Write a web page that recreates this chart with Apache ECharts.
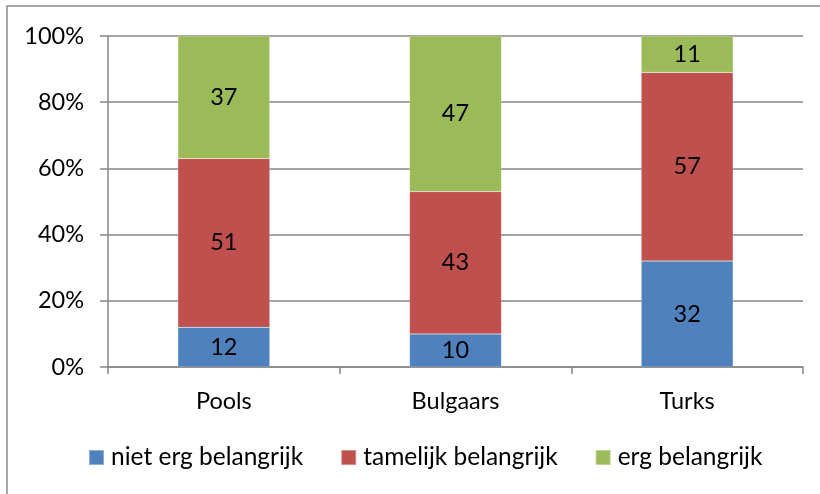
<!DOCTYPE html>
<html><head><meta charset="utf-8">
<script src="https://cdn.jsdelivr.net/npm/echarts@6/dist/echarts.min.js"></script>
<style>html,body{margin:0;padding:0;background:#fff}#c{width:820px;height:494px}</style>
</head><body><div id="c"></div>
<script>
const categories = ['Pools', 'Bulgaars', 'Turks'];
const seriesNames = ['niet erg belangrijk', 'tamelijk belangrijk', 'erg belangrijk'];
const nietErg = [12, 10, 32];
const tamelijk = [51, 43, 57];
const erg = [37, 47, 11];
const yTicks = ['0%', '20%', '40%', '60%', '80%', '100%'];
const colors = ['#4F81BD', '#C0504D', '#9BBB59'];
const FONT = 'Lato';
const FS = 23.5;
const chart = echarts.init(document.getElementById('c'));
const values = [nietErg, tamelijk, erg];
chart.setOption({
  animation: false,
  textStyle: {fontFamily: FONT},
  graphic: [{type: 'rect', shape: {x: 7, y: 6, width: 900, height: 600},
    style: {fill: 'none', stroke: '#8c8c8c', lineWidth: 1.5}, silent: true}],
  grid: {left: 108, right: 17, top: 36, bottom: 127, containLabel: false},
  legend: {bottom: 19, left: 83, itemWidth: 15, itemHeight: 15, itemGap: 37,
    icon: 'rect', textStyle: {fontSize: 24.5, color: '#000', fontFamily: FONT, padding: [0, 0, 0, 2]},
    data: seriesNames},
  xAxis: {type: 'category', data: categories,
    axisLine: {lineStyle: {color: '#868686', width: 1.5}},
    axisTick: {show: true, length: 7, lineStyle: {color: '#868686', width: 1.5}},
    axisLabel: {fontSize: FS, color: '#000', margin: 22, fontFamily: FONT}},
  yAxis: {type: 'value', min: 0, max: 100, interval: 20,
    axisLine: {show: true, lineStyle: {color: '#868686', width: 1.5}},
    axisTick: {show: true, length: 8, lineStyle: {color: '#868686', width: 1.5}},
    splitLine: {lineStyle: {color: '#868686', width: 1.5}},
    axisLabel: {fontSize: FS, color: '#000', margin: 24, fontFamily: FONT,
      formatter: (v) => yTicks[Math.round(v / 20)]}},
  series: seriesNames.map((n, i) => ({
    name: n, type: 'bar', stack: 'total', data: values[i], barWidth: '39.7%',
    itemStyle: {color: colors[i], borderColor: 'rgba(255,255,255,0.35)', borderWidth: 0.5},
    label: {show: true, position: 'inside', fontSize: FS, color: '#000', fontFamily: FONT}
  }))
});
</script></body></html>
